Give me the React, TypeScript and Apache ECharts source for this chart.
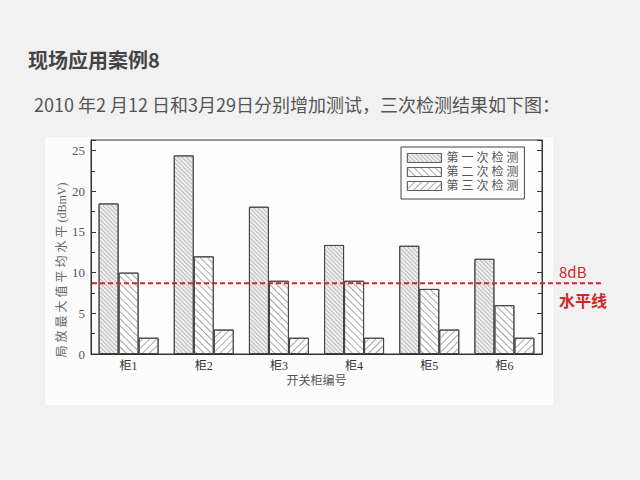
import { useEffect, useRef } from "react";
import * as echarts from "echarts";

const categories = ["柜1", "柜2", "柜3", "柜4", "柜5", "柜6"];
const firstTest = [18.5, 24.4, 18.1, 13.4, 13.3, 11.7];
const secondTest = [10, 12, 9, 9, 8, 6];
const thirdTest = [2, 3, 2, 2, 3, 2];
const seriesNames = ["第 一 次 检 测", "第 二 次 检 测", "第 三 次 检 测"];
const thresholdLevel = 8.7;
const thresholdLabel = "8dB";
const thresholdName = "水平线";

const serifFont = '"Liberation Serif", "Noto Sans CJK SC", serif';
const sansFont = '"Noto Sans CJK SC", "Noto Sans", sans-serif';

const hatch = (color: string, gap: number, rotation: number) => ({
  symbol: "rect",
  symbolSize: 1,
  dashArrayX: [1, 0],
  dashArrayY: [1, gap],
  rotation,
  color,
});

export default function App() {
  const chartRef = useRef<HTMLDivElement>(null);

  useEffect(() => {
    if (!chartRef.current) return;
    const chart = echarts.init(chartRef.current, null, { renderer: "svg" });

    const barBase = {
      type: "bar",
      barWidth: 20,
      barGap: "0%",
      barCategoryGap: "20%",
    };

    const valueAxis = (position: "left" | "right") => ({
      type: "value",
      position,
      min: 0,
      max: 26.3,
      interval: 5,
      axisLine: { show: true, lineStyle: { color: "#333", width: 1 } },
      axisTick: { show: true, inside: true, length: 5, lineStyle: { color: "#333" } },
      minorTick: { show: true, splitNumber: 2, length: 4, lineStyle: { color: "#333" } },
      splitLine: { show: false },
      axisLabel: {
        show: position === "left",
        showMaxLabel: false,
        margin: 6,
        color: "#555",
        fontSize: 13,
        fontFamily: serifFont,
      },
    });

    const option = {
      animation: false,
      backgroundColor: "#f1f1f1",
      title: [
        {
          text: "现场应用案例8",
          left: 23,
          top: 44,
          textStyle: { color: "#444", fontSize: 20, fontWeight: "bold", fontFamily: sansFont },
        },
        {
          text: "2010 年2 月12 日和3月29日分别增加测试，三次检测结果如下图：",
          left: 29,
          top: 90,
          textStyle: { color: "#555", fontSize: 18, fontWeight: "normal", fontFamily: sansFont },
        },
      ],
      legend: {
        data: seriesNames,
        orient: "vertical",
        left: 401,
        top: 147,
        padding: [5, 6, 7, 6],
        itemWidth: 34,
        itemHeight: 9,
        itemGap: 2,
        borderColor: "#444",
        borderWidth: 1,
        icon: "rect",
        itemStyle: { borderWidth: 0.8, borderColor: "#555" },
        textStyle: { color: "#555", fontSize: 12, lineHeight: 12, fontFamily: serifFont },
      },
      grid: {
        left: 91,
        right: 98,
        top: 140,
        bottom: 126,
        show: true,
        borderColor: "#333",
        borderWidth: 1,
        backgroundColor: "#fdfdfd",
      },
      xAxis: [
        {
          type: "category",
          data: categories,
          name: "开关柜编号",
          nameLocation: "middle",
          nameGap: 21,
          nameTextStyle: { color: "#555", fontSize: 12, fontFamily: serifFont },
          axisLine: { lineStyle: { color: "#333" } },
          axisTick: { inside: true, length: 4, lineStyle: { color: "#333" } },
          axisLabel: { margin: 6, color: "#333", fontSize: 12, fontFamily: serifFont },
        },
        {
          type: "category",
          data: categories,
          position: "bottom",
          axisLine: { show: false },
          axisTick: { inside: true, alignWithLabel: true, length: 3, lineStyle: { color: "#333" } },
          axisLabel: { show: false },
        },
      ],
      yAxis: [valueAxis("left"), valueAxis("right")],
      graphic: [
        {
          id: "panel",
          type: "rect",
          z: -10,
          silent: true,
          shape: { x: 45, y: 137, width: 508, height: 268 },
          style: { fill: "#fcfcfc" },
        },
        {
          id: "yname",
          type: "text",
          x: 62,
          y: 270,
          rotation: Math.PI / 2,
          style: {
            text: "局 放 最 大 值 平 均 水 平 (dBmV)",
            fill: "#666",
            font: `12px ${serifFont}`,
            textAlign: "center",
            textVerticalAlign: "middle",
          },
        },
      ],
      series: [
        {
          ...barBase,
          name: seriesNames[0],
          data: firstTest,
          itemStyle: {
            color: "#eeeeee",
            borderColor: "#444",
            borderWidth: 1,
            decal: hatch("#bdbdbd", 2, Math.PI / 4),
          },
        },
        {
          ...barBase,
          name: seriesNames[1],
          data: secondTest,
          itemStyle: {
            color: "#ffffff",
            borderColor: "#444",
            borderWidth: 1,
            decal: hatch("#a6a6a6", 4, Math.PI / 4),
          },
        },
        {
          ...barBase,
          name: seriesNames[2],
          data: thirdTest,
          itemStyle: {
            color: "#ffffff",
            borderColor: "#444",
            borderWidth: 1,
            decal: hatch("#a6a6a6", 4, -Math.PI / 4),
          },
        },
      ],
    };

    chart.setOption(option);

    // red reference line reaches past the plot, so place it from the axis scale
    const lineY = chart.convertToPixel({ yAxisIndex: 0 }, thresholdLevel) as number;
    chart.setOption({
      graphic: [
        {
          id: "threshold",
          type: "line",
          z: 50,
          shape: { x1: 92, y1: lineY, x2: 603, y2: lineY },
          style: { stroke: "#d0262b", lineWidth: 2, lineDash: [5, 3] },
        },
        {
          id: "thresholdLabel",
          type: "text",
          x: 559,
          y: lineY - 12,
          style: {
            text: thresholdLabel,
            fill: "#cc2a2a",
            font: `15px ${sansFont}`,
            textVerticalAlign: "middle",
          },
        },
        {
          id: "thresholdName",
          type: "text",
          x: 559,
          y: lineY + 17,
          style: {
            text: thresholdName,
            fill: "#cc2a2a",
            font: `bold 16px ${sansFont}`,
            textVerticalAlign: "middle",
          },
        },
      ],
    });

    return () => {
      chart.dispose();
    };
  }, []);

  return (
    <div
      ref={chartRef}
      style={{ position: "fixed", left: 0, top: 0, width: 640, height: 480 }}
    />
  );
}
